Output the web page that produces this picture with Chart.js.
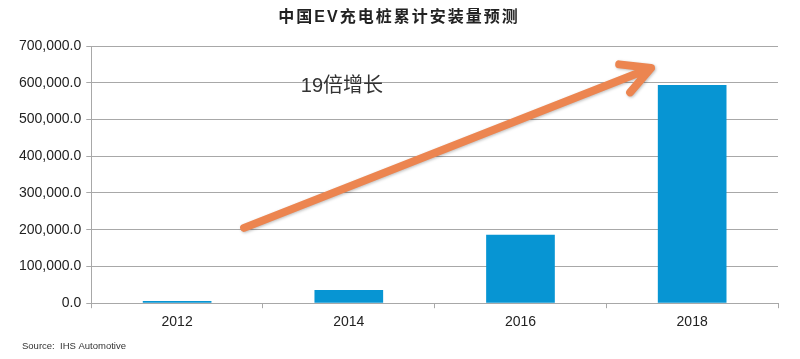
<!DOCTYPE html>
<html>
<head>
<meta charset="utf-8">
<script src="https://cdn.jsdelivr.net/npm/chart.js@4/dist/chart.umd.min.js"></script>
<style>
  body { margin: 0; background: #ffffff; }
  #grafico { display: block; }
</style>
</head>
<body>
<canvas id="grafico" width="800" height="359"></canvas>
<script>
// datos
const anios = ['2012', '2014', '2016', '2018'];
const instalados = [6000, 36000, 186000, 594000];
const tituloTexto = '中国EV充电桩累计安装量预测';
const fuenteTexto = 'Source:  IHS Automotive';
const notaTexto = '19倍增长';
// flecha en coordenadas de datos: [indice de categoria, valor]
const flechaDesde = [0.39, 205000];
const flechaHasta = [2.76, 640000];
const notaPos = [0.96, 590000];

const fuenteBase = "'Liberation Sans', Arial, 'Noto Sans CJK SC', sans-serif";

// titulo, fuente, flecha y nota dibujados a mano
const decoraciones = {
  id: 'decoraciones',
  afterDatasetsDraw(chart) {
    const { ctx, scales } = chart;
    const x = scales.x, y = scales.y;
    ctx.save();

    ctx.fillStyle = '#222';
    ctx.font = "bold 16px 'Liberation Sans', 'Noto Sans CJK SC', sans-serif";
    ctx.letterSpacing = '2px';
    ctx.textAlign = 'center';
    ctx.textBaseline = 'middle';
    ctx.fillText(tituloTexto, 399, 18);
    ctx.letterSpacing = '0px';

    ctx.font = "9.5px " + fuenteBase;
    ctx.textAlign = 'left';
    ctx.fillStyle = '#333';
    ctx.fillText(fuenteTexto, 22, 346);

    ctx.font = "20px " + fuenteBase;
    ctx.textAlign = 'center';
    ctx.fillStyle = '#333';
    ctx.fillText(notaTexto, x.getPixelForValue(notaPos[0]), y.getPixelForValue(notaPos[1]));

    const x1 = x.getPixelForValue(flechaDesde[0]), y1 = y.getPixelForValue(flechaDesde[1]);
    const x2 = x.getPixelForValue(flechaHasta[0]), y2 = y.getPixelForValue(flechaHasta[1]);
    const ang = Math.atan2(y1 - y2, x1 - x2);
    const largo = 32, abre = 28 * Math.PI / 180;
    ctx.strokeStyle = '#ec8550';
    ctx.lineWidth = 8;
    ctx.lineCap = 'round';
    ctx.lineJoin = 'round';
    ctx.shadowColor = 'rgba(0,0,0,0.25)';
    ctx.shadowBlur = 3;
    ctx.shadowOffsetX = 1;
    ctx.shadowOffsetY = 1;
    ctx.beginPath();
    ctx.moveTo(x1, y1);
    ctx.lineTo(x2, y2);
    ctx.moveTo(x2 + largo * Math.cos(ang + abre), y2 + largo * Math.sin(ang + abre));
    ctx.lineTo(x2, y2);
    ctx.lineTo(x2 + largo * Math.cos(ang - abre), y2 + largo * Math.sin(ang - abre));
    ctx.stroke();
    ctx.restore();
  }
};

new Chart(document.getElementById('grafico'), {
  type: 'bar',
  data: {
    labels: anios,
    datasets: [{
      data: instalados,
      backgroundColor: '#0795d3',
      borderWidth: 0,
      barPercentage: 0.4,
      categoryPercentage: 1
    }]
  },
  options: {
    responsive: false,
    animation: false,
    layout: { padding: { top: 46, left: 14, right: 22, bottom: 22 } },
    plugins: {
      legend: { display: false },
      tooltip: { enabled: false }
    },
    scales: {
      x: {
        offset: true,
        grid: { offset: true, drawOnChartArea: false, drawTicks: true, tickLength: 5, color: '#a8a8a8' },
        border: { color: '#a8a8a8' },
        ticks: { color: '#222', padding: 6, font: { size: 14, family: fuenteBase } }
      },
      y: {
        min: 0,
        max: 700000,
        ticks: {
          stepSize: 100000,
          color: '#222',
          padding: 5,
          font: { size: 14, family: fuenteBase },
          callback: v => v.toLocaleString('en-US', { minimumFractionDigits: 1, maximumFractionDigits: 1 })
        },
        grid: { color: '#a8a8a8', tickLength: 5 },
        border: { color: '#a8a8a8' }
      }
    }
  },
  plugins: [decoraciones]
});
</script>
</body>
</html>
